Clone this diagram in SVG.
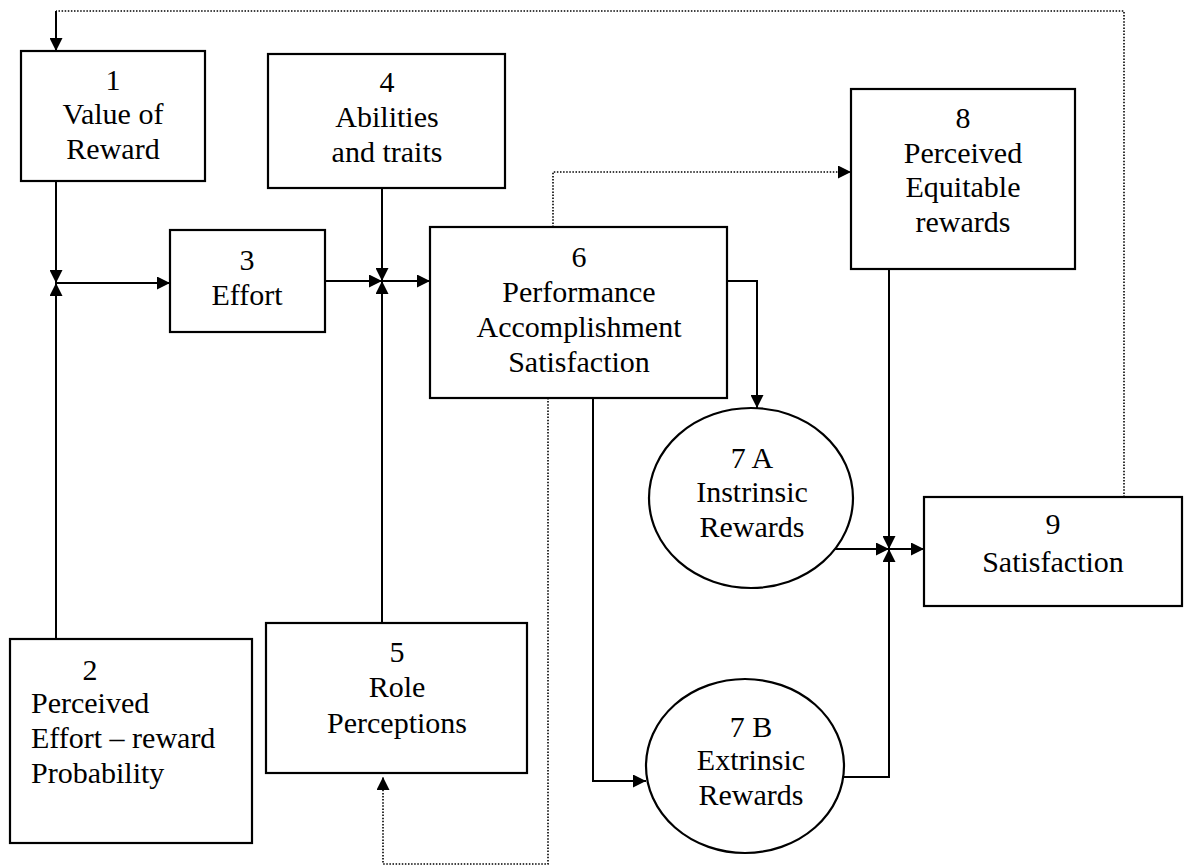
<svg xmlns="http://www.w3.org/2000/svg" width="1189" height="865" viewBox="0 0 1189 865">
  <style>
    .box { fill: #ffffff; stroke: #000000; stroke-width: 2.2; }
    .lbl { font-family: "Liberation Serif", "Times New Roman", serif; font-size: 30px; fill: #000000; text-anchor: middle; }
    .lft { text-anchor: start; }
    .solid { fill: none; stroke: #000000; stroke-width: 2; }
    .dot { fill: none; stroke: #000000; stroke-width: 1.6; stroke-dasharray: 1.5 1.6; }
  </style>
  <defs>
    <marker id="arrow" viewBox="0 0 10 10" refX="10" refY="5" markerUnits="userSpaceOnUse" markerWidth="15" markerHeight="13" orient="auto">
      <path d="M0,0 L10,5 L0,10 z" fill="#000000"/>
    </marker>
  </defs>
  <rect width="1189" height="865" fill="#ffffff"/>

  <!-- connectors -->
  <g id="connectors">
    <!-- feedback from satisfaction to value of reward -->
    <path class="dot" d="M1124,497 V11 H56"/>
    <path class="solid" d="M56,11 V51" marker-end="url(#arrow)"/>
    <!-- inputs to effort -->
    <path class="solid" d="M56,181 V283" marker-end="url(#arrow)"/>
    <path class="solid" d="M56,639 V283" marker-end="url(#arrow)"/>
    <path class="solid" d="M56,283 H170" marker-end="url(#arrow)"/>
    <!-- inputs to performance -->
    <path class="solid" d="M325,281 H382" marker-end="url(#arrow)"/>
    <path class="solid" d="M382,188 V281" marker-end="url(#arrow)"/>
    <path class="solid" d="M382,623 V281" marker-end="url(#arrow)"/>
    <path class="solid" d="M382,281 H430" marker-end="url(#arrow)"/>
    <!-- performance outputs -->
    <path class="dot" d="M553,227 V172 H851" marker-end="url(#arrow)"/>
    <path class="solid" d="M727,281 H757 V408" marker-end="url(#arrow)"/>
    <path class="solid" d="M593,398 V781 H646" marker-end="url(#arrow)"/>
    <path class="dot" d="M548,398 V864 H383 V777" marker-end="url(#arrow)"/>
    <!-- inputs to satisfaction -->
    <path class="solid" d="M889,269 V549" marker-end="url(#arrow)"/>
    <path class="solid" d="M834,549 H889" marker-end="url(#arrow)"/>
    <path class="solid" d="M843,777 H889 V549" marker-end="url(#arrow)"/>
    <path class="solid" d="M889,549 H924" marker-end="url(#arrow)"/>
  </g>

  <g id="n1">
    <rect class="box" x="21" y="51" width="184" height="130"/>
    <text class="lbl" x="113" y="90">1</text>
    <text class="lbl" x="113" y="124">Value of</text>
    <text class="lbl" x="113" y="159">Reward</text>
  </g>
  <g id="n2">
    <rect class="box" x="10" y="639" width="242" height="204"/>
    <text class="lbl" x="90" y="680">2</text>
    <text class="lbl lft" x="31" y="713">Perceived</text>
    <text class="lbl lft" x="31" y="748">Effort – reward</text>
    <text class="lbl lft" x="31" y="783">Probability</text>
  </g>
  <g id="n3">
    <rect class="box" x="170" y="230" width="155" height="102"/>
    <text class="lbl" x="247" y="270">3</text>
    <text class="lbl" x="247" y="305">Effort</text>
  </g>
  <g id="n4">
    <rect class="box" x="268" y="54" width="237" height="134"/>
    <text class="lbl" x="387" y="92">4</text>
    <text class="lbl" x="387" y="127">Abilities</text>
    <text class="lbl" x="387" y="162">and traits</text>
  </g>
  <g id="n5">
    <rect class="box" x="266" y="623" width="261" height="150"/>
    <text class="lbl" x="397" y="662">5</text>
    <text class="lbl" x="397" y="697">Role</text>
    <text class="lbl" x="397" y="733">Perceptions</text>
  </g>
  <g id="n6">
    <rect class="box" x="430" y="227" width="297" height="171"/>
    <text class="lbl" x="579" y="267">6</text>
    <text class="lbl" x="579" y="302">Performance</text>
    <text class="lbl" x="579" y="337">Accomplishment</text>
    <text class="lbl" x="579" y="372">Satisfaction</text>
  </g>
  <g id="n7a">
    <ellipse class="box" cx="751" cy="498" rx="102" ry="90"/>
    <text class="lbl" x="752" y="468">7 A</text>
    <text class="lbl" x="752" y="502">Instrinsic</text>
    <text class="lbl" x="752" y="537">Rewards</text>
  </g>
  <g id="n7b">
    <ellipse class="box" cx="745" cy="766" rx="99" ry="87"/>
    <text class="lbl" x="751" y="737">7 B</text>
    <text class="lbl" x="751" y="770">Extrinsic</text>
    <text class="lbl" x="751" y="805">Rewards</text>
  </g>
  <g id="n8">
    <rect class="box" x="851" y="89" width="224" height="180"/>
    <text class="lbl" x="963" y="128">8</text>
    <text class="lbl" x="963" y="163">Perceived</text>
    <text class="lbl" x="963" y="197">Equitable</text>
    <text class="lbl" x="963" y="232">rewards</text>
  </g>
  <g id="n9">
    <rect class="box" x="924" y="497" width="258" height="109"/>
    <text class="lbl" x="1053" y="534">9</text>
    <text class="lbl" x="1053" y="572">Satisfaction</text>
  </g>
</svg>
